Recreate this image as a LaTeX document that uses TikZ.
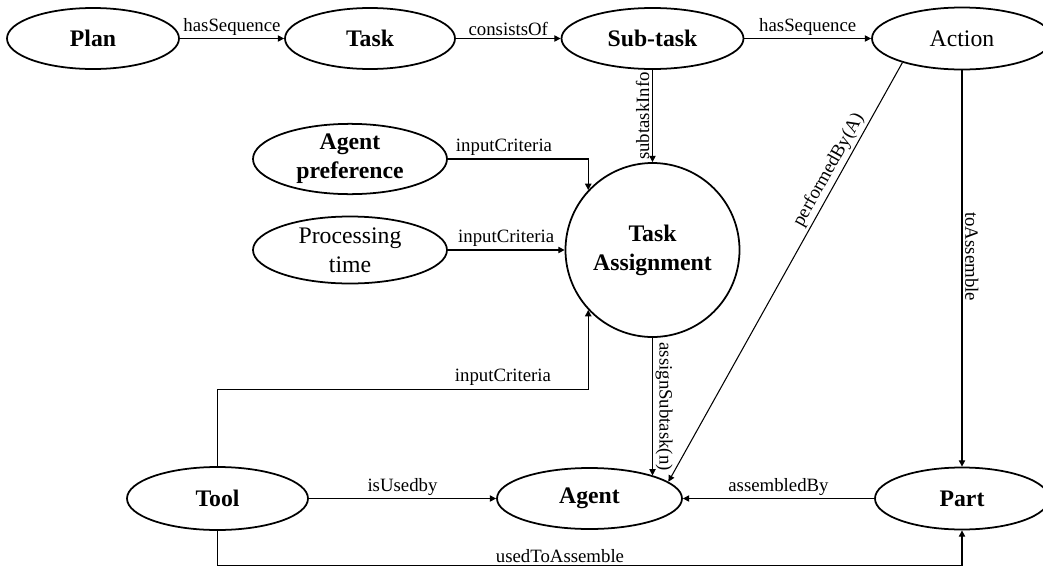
\documentclass[tikz,border=0pt]{standalone}
\usepackage{fontspec}
\setmainfont{Liberation Serif}
\usetikzlibrary{arrows.meta,shapes.geometric}

\begin{document}
\begin{tikzpicture}[>={Triangle[length=3.6pt,width=3.6pt]}, line width=.6pt,
        concept/.style={draw, ellipse, line width=1pt, inner sep=0pt, align=center,
            font=\fontsize{13.5}{16.5}\selectfont\bfseries},
        plainconcept/.style={concept, font=\fontsize{13.5}{16.5}\selectfont},
        rel/.style={font=\fontsize{10.7}{12}\selectfont, inner sep=1.5pt}]
        \useasboundingbox (0,0) rectangle (20.86,-11.34);

        % top row
        \node[concept, minimum width=3.44cm, minimum height=1.22cm] (plan) at (1.86,-.77) {Plan};
        \node[concept, minimum width=3.4cm, minimum height=1.22cm] (task) at (7.4,-.77) {Task};
        \node[concept, minimum width=3.64cm, minimum height=1.22cm] (subtask) at (13.05,-.77) {Sub-task};
        \node[plainconcept, minimum width=3.6cm, minimum height=1.24cm] (action) at (19.24,-.77) {Action};

        % criteria
        \node[concept, minimum width=3.88cm, minimum height=1.36cm] (pref) at (7,-3.18) {Agent\\preference};
        \node[plainconcept, minimum width=3.88cm, minimum height=1.34cm] (ptime) at (7,-5) {Processing\\time};
        \node[concept, circle, minimum size=3.48cm] (assign) at (13.05,-5) {Task\\Assignment};

        % bottom row
        \node[concept, minimum width=3.62cm, minimum height=1.26cm] (tool) at (4.35,-9.97) {Tool};
        \node[concept, minimum width=3.7cm, minimum height=1.22cm] (agent) at (11.79,-9.97) {Agent};
        \node[concept, minimum width=3.48cm, minimum height=1.24cm] (part) at (19.24,-9.97) {Part};

        \draw[->] (plan) -- node[rel, above] {hasSequence} (task);
        \draw[->] (task) -- node[rel, above] {consistsOf} (subtask);
        \draw[->] (subtask) -- node[rel, above] {hasSequence} (action);
        \draw[->] (subtask) -- node[rel, rotate=90, anchor=south] {subtaskInfo} (assign);

        \draw[->] (pref.east) -| node[rel, above, pos=.2] {inputCriteria} (assign.137);
        \draw[->] (ptime) -- node[rel, above] {inputCriteria} (assign);
        \draw[->] (tool.north) -- ++(0,1.54) -| node[rel, above, pos=.385] {inputCriteria} (assign.223);

        \draw[->] (assign) -- node[rel, rotate=-90, anchor=south] {assignSubtask(n)} (assign |- agent.20);
        \draw[->] (action.202) -- node[rel, above, sloped, pos=.27] {performedBy(A)} (agent.12);
        \draw[->] (action) -- node[rel, rotate=-90, anchor=south, pos=.47] {toAssemble} (part);

        \draw[->] (tool) -- node[rel, above] {isUsedby} (agent);
        \draw[->] (part) -- node[rel, above] {assembledBy} (agent);
        \draw[->] (tool.south) -- ++(0,-.7) -| node[rel, above, pos=.23] {usedToAssemble} (part.south);
    \end{tikzpicture}
\end{document}
